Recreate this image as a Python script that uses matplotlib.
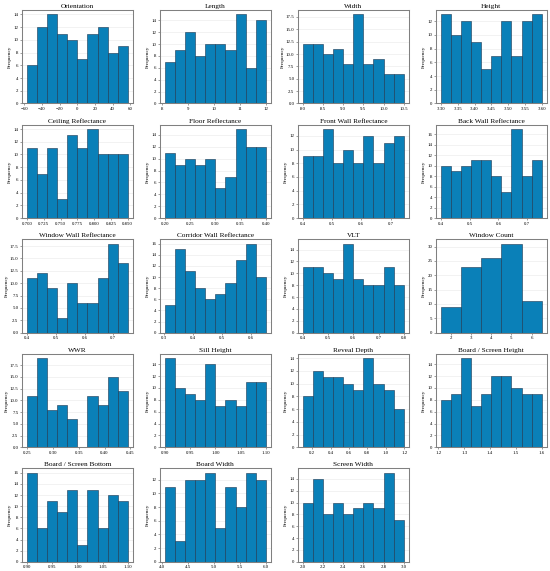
import numpy as np
import matplotlib
matplotlib.use('Agg')
import matplotlib.pyplot as plt
from matplotlib.ticker import MaxNLocator

plt.rcParams['font.family'] = ['Liberation Serif', 'DejaVu Serif']

# histogram counts (10 bins each, window count 5 bins) and the value range
names = ['Orientation', 'Length', 'Width', 'Height',
         'Ceiling Reflectance', 'Floor Reflectance', 'Front Wall Reflectance', 'Back Wall Reflectance',
         'Window Wall Reflectance', 'Corridor Wall Reflectance', 'VLT', 'Window Count',
         'WWR', 'Sill Height', 'Reveal Depth', 'Board / Screen Height',
         'Board / Screen Bottom', 'Board Width', 'Screen Width']

counts = [
    [6, 12, 14, 11, 10, 7, 11, 12, 8, 9],
    [7, 9, 12, 8, 10, 10, 9, 15, 6, 14],
    [12, 12, 10, 11, 8, 18, 8, 9, 6, 6],
    [13, 10, 12, 9, 5, 7, 12, 7, 12, 13],
    [11, 7, 11, 3, 13, 11, 14, 10, 10, 10],
    [11, 9, 10, 9, 10, 5, 7, 15, 12, 12],
    [9, 9, 13, 8, 10, 8, 12, 8, 11, 12],
    [10, 9, 10, 11, 11, 8, 5, 17, 8, 11],
    [11, 12, 9, 3, 10, 6, 6, 11, 18, 14],
    [5, 15, 11, 8, 6, 7, 9, 13, 16, 10],
    [11, 11, 10, 9, 15, 9, 8, 8, 11, 8],
    [9, 23, 26, 31, 11],
    [11, 19, 8, 9, 6, 0, 11, 9, 15, 12],
    [15, 10, 9, 8, 14, 7, 8, 7, 11, 11],
    [8, 12, 11, 11, 10, 9, 14, 10, 9, 6],
    [8, 9, 15, 7, 9, 12, 12, 10, 9, 9],
    [16, 6, 11, 9, 13, 3, 13, 6, 12, 11],
    [11, 3, 12, 12, 13, 5, 11, 8, 13, 12],
    [10, 14, 8, 10, 8, 9, 10, 9, 15, 7],
]

ranges = [
    (-57, 57), (8.1, 12.0), (8.0, 10.5), (3.30, 3.60),
    (0.70, 0.85), (0.20, 0.40), (0.40, 0.745), (0.40, 0.75),
    (0.40, 0.75), (0.305, 0.65), (0.40, 0.80), (1.5, 6.5),
    (0.25, 0.445), (0.90, 1.10), (0.10, 1.195), (1.21, 1.60),
    (0.90, 1.10), (4.05, 6.0), (2.0, 3.0),
]

bar_color = '#0a80b8'

fig, axes = plt.subplots(5, 4, figsize=(5.5, 5.71), dpi=100)
fig.subplots_adjust(left=0.04, right=0.994, top=0.9825, bottom=0.016,
                    wspace=0.245, hspace=0.226)

for i, ax in enumerate(axes.flat):
    if i >= len(names):
        ax.axis('off')
        continue
    c = counts[i]
    lo, hi = ranges[i]
    edges = np.linspace(lo, hi, len(c) + 1)
    centers = (edges[:-1] + edges[1:]) / 2
    ax.hist(centers, bins=edges, weights=c, color=bar_color,
            edgecolor='#1a3550', linewidth=0.4, zorder=2)
    ax.set_title(names[i], fontsize=5.2, pad=1.5)
    ax.set_ylabel('Frequency', fontsize=3.8, labelpad=1)
    ax.xaxis.set_major_locator(MaxNLocator(nbins=7, steps=[1, 2, 2.5, 5, 10]))
    ax.yaxis.set_major_locator(MaxNLocator(nbins=9, steps=[1, 2, 2.5, 5, 10]))
    ax.tick_params(labelsize=3.5, length=1.5, width=0.4, pad=1, color='#555555')
    ax.grid(axis='y', color='#e8e8e8', linewidth=0.4, zorder=0)
    ax.set_axisbelow(True)
    for s in ax.spines.values():
        s.set_color('#808080')
        s.set_linewidth(0.75)

fig.savefig('out.png', dpi=100)
